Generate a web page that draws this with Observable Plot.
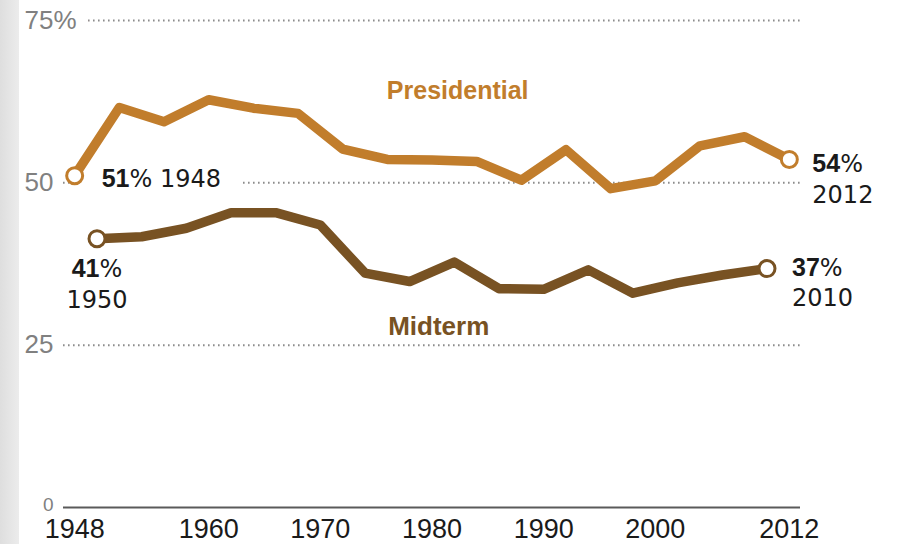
<!DOCTYPE html>
<html>
<head>
<meta charset="utf-8">
<script src="https://cdn.jsdelivr.net/npm/d3@7"></script>
<script src="https://cdn.jsdelivr.net/npm/@observablehq/plot@0.6"></script>
<style>
  html, body { margin: 0; padding: 0; }
  body {
    width: 902px; height: 544px; overflow: hidden;
    background: linear-gradient(to right, #dedede 0px, #ececec 19px, #ffffff 19px);
  }
</style>
</head>
<body>
<div id="chart"></div>
<script>
// ---- Data ----
const presYears  = [1948, 1952, 1956, 1960, 1964, 1968, 1972, 1976, 1980, 1984, 1988, 1992, 1996, 2000, 2004, 2008, 2012];
const presValues = [51.1, 61.6, 59.4, 62.8, 61.5, 60.7, 55.2, 53.6, 53.5, 53.3, 50.4, 55.1, 49.1, 50.3, 55.7, 57.1, 53.6];
const midYears   = [1950, 1954, 1958, 1962, 1966, 1970, 1974, 1978, 1982, 1986, 1990, 1994, 1998, 2002, 2006, 2010];
const midValues  = [41.4, 41.7, 43.0, 45.4, 45.4, 43.5, 36.1, 34.8, 37.8, 33.7, 33.6, 36.6, 33.0, 34.6, 35.8, 36.8];
const seriesNames = ["Presidential", "Midterm"];
const xTicks = [1948, 1960, 1970, 1980, 1990, 2000, 2012];
const yTicks = [25, 50, 75];
const yZero = [0];
const gridValues = [25, 50, 75];

const presColor = "#c17d2c";
const midColor = "#785223";

const pres = presYears.map((year, i) => ({year, value: presValues[i]}));
const mid = midYears.map((year, i) => ({year, value: midValues[i]}));
const presFirst = pres[0], presLast = pres[pres.length - 1];
const midFirst = mid[0], midLast = mid[mid.length - 1];
const pct = d => `${Math.round(d.value)}%`;

const annFont = "DejaVu Sans, sans-serif";
const firstLabel = d => `${pct(d)} ${d.year}`;

const chart = Plot.plot({
  width: 902,
  height: 544,
  marginTop: 20,
  marginBottom: 37,
  marginLeft: 63,
  marginRight: 102,
  style: {background: "transparent", fontFamily: "Liberation Sans, Arial, sans-serif"},
  x: {domain: [1947, 2013], label: null},
  y: {domain: [0, 75], axis: null},
  marks: [
    // dotted gridlines
    Plot.ruleY(gridValues, {stroke: "#8c8c8c", strokeWidth: 2, strokeDasharray: "1.6,3.4"}),
    // baseline
    Plot.ruleY([0], {stroke: "#5a5a5a", strokeWidth: 2}),
    // "%" after 75 with white halo to interrupt the grid
    Plot.text([75], {y: d => d, frameAnchor: "left", dx: -10, text: () => "%", textAnchor: "start",
      fill: "#808080", fontSize: 26, stroke: "white", strokeWidth: 24, paintOrder: "stroke", strokeLinejoin: "round"}),
    // y tick labels
    Plot.text(yTicks, {y: d => d, frameAnchor: "left", dx: -10, text: d => String(d), textAnchor: "end",
      fill: "#808080", fontSize: 26}),
    Plot.text(yZero, {y: d => d, frameAnchor: "left", dx: -10, dy: -3, text: d => String(d), textAnchor: "end",
      fill: "#808080", fontSize: 19}),
    // x axis
    Plot.axisX(xTicks, {tickSize: 0, tickPadding: 11, fontSize: 27, fill: "#1a1a1a", tickFormat: d => String(d), label: null}),
    // halo behind first presidential label (interrupts the 50 gridline)
    Plot.text([presFirst], {x: "year", y: "value", text: firstLabel, textAnchor: "start",
      dx: 27, dy: 4, fontSize: 24, fontFamily: annFont, fill: "white",
      stroke: "white", strokeWidth: 44, strokeLinejoin: "round"}),
    // series lines
    Plot.line(pres, {x: "year", y: "value", stroke: presColor, strokeWidth: 9.5, strokeLinejoin: "round"}),
    Plot.line(mid, {x: "year", y: "value", stroke: midColor, strokeWidth: 9.5, strokeLinejoin: "round"}),
    // endpoint circles
    Plot.dot([presFirst, presLast], {x: "year", y: "value", r: 8, fill: "white", stroke: presColor, strokeWidth: 3}),
    Plot.dot([midFirst, midLast], {x: "year", y: "value", r: 8, fill: "white", stroke: midColor, strokeWidth: 3}),
    // endpoint labels
    Plot.text([presFirst], {x: "year", y: "value", text: firstLabel, textAnchor: "start",
      dx: 27, dy: 4, fontSize: 24, fontFamily: annFont, fill: "#1a1a1a"}),
    Plot.text([midFirst], {x: "year", y: "value", text: pct, textAnchor: "middle", dx: 0, dy: 31, fontSize: 24, fontFamily: annFont, fill: "#1a1a1a"}),
    Plot.text([midFirst], {x: "year", y: "value", text: d => String(d.year), textAnchor: "middle", dx: 0, dy: 62, fontSize: 24, fontFamily: annFont, fill: "#1a1a1a"}),
    Plot.text([presLast], {x: "year", y: "value", text: pct, textAnchor: "start", dx: 23, dy: 4.5, fontSize: 24, fontFamily: annFont, fill: "#1a1a1a"}),
    Plot.text([presLast], {x: "year", y: "value", text: d => String(d.year), textAnchor: "start", dx: 23, dy: 36, fontSize: 24, fontFamily: annFont, fill: "#1a1a1a"}),
    Plot.text([midLast], {x: "year", y: "value", text: pct, textAnchor: "start", dx: 25, dy: 0, fontSize: 24, fontFamily: annFont, fill: "#1a1a1a"}),
    Plot.text([midLast], {x: "year", y: "value", text: d => String(d.year), textAnchor: "start", dx: 25, dy: 30, fontSize: 24, fontFamily: annFont, fill: "#1a1a1a"}),
    // series names
    Plot.text([seriesNames[0]], {x: () => 1982.3, y: () => 64.1, text: d => d, fill: presColor, fontSize: 25, fontWeight: "bold"}),
    Plot.text([seriesNames[1]], {x: () => 1980.6, y: () => 27.9, text: d => d, fill: midColor, fontSize: 26, fontWeight: "bold"})
  ]
});

// bold the numeric part of the percentage annotations
d3.select(chart).selectAll("text").each(function () {
  const t = this.textContent;
  const m = /^(\d+)(%.*)$/.exec(t);
  if (m && this.childElementCount === 0) {
    const sel = d3.select(this);
    sel.text(null);
    sel.append("tspan").attr("font-family", "Liberation Sans, Arial, sans-serif").attr("font-weight", "bold").attr("font-size", 25).text(m[1]);
    sel.append("tspan").text(m[2]);
  }
});

document.getElementById("chart").appendChild(chart);
</script>
</body>
</html>
